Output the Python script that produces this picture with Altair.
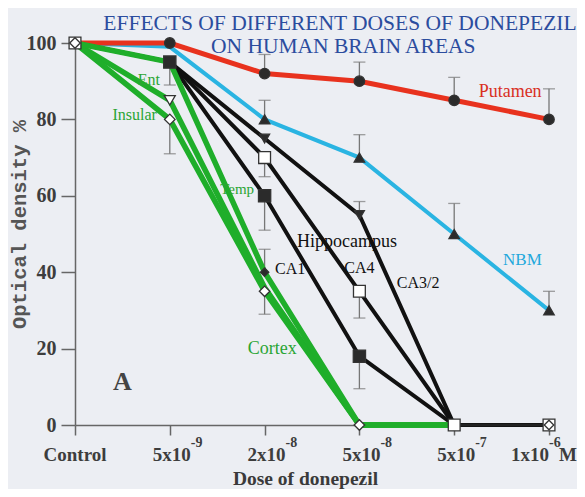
import altair as alt
import pandas as pd

# ---- data ----
dose_labels = ["Control", "5x10", "2x10", "5x10", "5x10", "1x10"]
dose_exponents = ["", "-9", "-8", "-8", "-7", "-6"]

putamen = [100, 100, 92, 90, 85, 80]
nbm = [100, 99, 80, 70, 50, 30]
ca32 = [100, 95, 75, 55, 0, 0]
ca4 = [100, 95, 70, 35, 0, 0]
ca1 = [100, 95, 60, 18, 0, 0]
ent = [100, 85, 36, 0, 0]
insular = [100, 80, 35, 0, 0]
temp = [100, 95, 40, 0, 0]

# error bar ends (dose index -> end value)
err_putamen = {2: 97, 3: 95, 4: 91, 5: 88}
err_nbm = {2: 85, 3: 76, 4: 58, 5: 35}
err_ca32 = {3: 58.5}
err_ca4 = {2: 65, 3: 28}
err_ca1 = {1: 89, 2: 51, 3: 9.5}
err_temp = {2: 46}
err_insular = {1: 71, 2: 29}

series = {
    "Putamen": putamen, "NBM": nbm, "CA3/2": ca32, "CA4": ca4, "CA1": ca1,
    "Ent": ent, "Insular": insular, "Temp": temp,
}
errors = {
    "Putamen": err_putamen, "NBM": err_nbm, "CA3/2": err_ca32, "CA4": err_ca4,
    "CA1": err_ca1, "Temp": err_temp, "Insular": err_insular,
}

# marker styles: series -> (shape, filled, size, dose indices)
marker_style = {
    "Putamen": ("circle", True, 110, [1, 2, 3, 4, 5]),
    "NBM": ("triangle-up", True, 110, [2, 3, 4, 5]),
    "CA3/2": ("triangle-down", True, 100, [2, 3]),
    "CA4": ("square", False, 140, [2, 3]),
    "CA1": ("square", True, 150, [1, 2, 3]),
    "Temp": ("diamond", True, 70, [2]),
    "Ent": ("triangle-down", False, 120, [1]),
    "Insular": ("diamond", False, 110, [1, 2, 3, 4]),
}

annotations = [
    ("Putamen", 4.59, 87.2, "#d9301f", 18),
    ("NBM", 4.72, 43.2, "#22a8dc", 17),
    ("Hippocampus", 2.87, 47.9, "#111111", 18),
    ("CA1", 2.27, 40.8, "#111111", 16),
    ("CA4", 3.0, 41.0, "#111111", 16),
    ("CA3/2", 3.62, 37.2, "#111111", 16),
    ("Ent", 0.78, 90.3, "#2aa534", 16),
    ("Insular", 0.63, 81.2, "#2aa534", 16),
    ("Temp", 1.71, 61.8, "#2aa534", 15),
    ("Cortex", 2.08, 19.9, "#2aa534", 18),
]

title_lines = [
    ("EFFECTS OF DIFFERENT DOSES OF DONEPEZIL", 2.795, 103.4),
    ("ON HUMAN BRAIN AREAS", 2.83, 97.4),
]

# ---- build tables ----
rows = []
for name, vals in series.items():
    for i, v in enumerate(vals):
        rows.append({"series": name, "x": i, "y": v})
lines = pd.DataFrame(rows)

tail = pd.DataFrame({"series": ["tail", "tail"], "x": [4, 5], "y": ca1[4:6]})

erows = []
for name, d in errors.items():
    for i, end in d.items():
        erows.append({"series": name, "x": i, "y": series[name][i], "y2": end})
errdf = pd.DataFrame(erows)

mrows = []
for name, (shape, filled, size, idxs) in marker_style.items():
    for i in idxs:
        mrows.append({"x": i, "y": series[name][i], "shape": shape,
                      "fill": "#2b2b2b" if filled else "white", "size": size})
# control and 1e-6 open square overlays
for i in [0, 4, 5]:
    mrows.append({"x": i, "y": ca1[i], "shape": "square", "fill": "white", "size": 140})
mrows.append({"x": 0, "y": 100, "shape": "diamond", "fill": "white", "size": 110})
mrows.append({"x": 5, "y": 0, "shape": "diamond", "fill": "white", "size": 90})
markers = pd.DataFrame(mrows)

ann = pd.DataFrame(annotations, columns=["text", "x", "y", "color", "size"])
ttl = pd.DataFrame(title_lines, columns=["text", "x", "y"])
ticks = pd.DataFrame({"x": list(range(6)), "base": dose_labels, "sup": dose_exponents})

FONT = "Liberation Serif"

xscale = alt.Scale(domain=[0, 5], nice=False, zero=False)
yscale = alt.Scale(domain=[0, 100], nice=False)

X = alt.X("x:Q", scale=xscale, axis=alt.Axis(
    values=[0, 1, 2, 3, 4, 5], labels=False, grid=False, tickSize=10, tickWidth=1.5,
    tickColor="#666666", domainColor="#666666", domainWidth=1.5,
    title="Dose of donepezil", titleFont=FONT, titleFontSize=19.5, titleFontWeight="bold",
    titleColor="#3a3a3a", titleX=230, titleY=59, titleAlign="center",
    titleBaseline="alphabetic"))
Y = alt.Y("y:Q", scale=yscale, axis=alt.Axis(
    values=list(range(0, 101, 10)), grid=False, tickSize=14, tickWidth=1.5,
    tickColor="#666666", domainColor="#666666", domainWidth=1.5,
    labelExpr="datum.value % 20 == 0 ? datum.label : ''",
    labelFont=FONT, labelFontSize=20, labelFontWeight="bold", labelColor="#3d3d3d",
    labelPadding=5,
    title="Optical density %", titleFont="Liberation Mono", titleFontSize=20.5,
    titleFontWeight="bold", titleColor="#555555", titleX=-50, titleY=181,
    titleAngle=-90, titleAlign="center", titleBaseline="alphabetic"))

base = alt.Chart(lines)

err_rule = alt.Chart(errdf).mark_rule(color="#777777", strokeWidth=1.3).encode(
    x=X, y="y:Q", y2="y2:Q")
err_cap = alt.Chart(errdf).mark_tick(color="#777777", thickness=1.3, size=12,
                                     orient="horizontal").encode(x=X, y=alt.Y("y2:Q", scale=yscale))

def line_layer(names, color, width):
    return base.transform_filter(
        alt.FieldOneOfPredicate(field="series", oneOf=names)
    ).mark_line(color=color, strokeWidth=width).encode(
        x=X, y=Y, detail="series:N", order="x:Q")

cyan = line_layer(["NBM"], "#2ab4e2", 4)
red = line_layer(["Putamen"], "#e8321e", 5)
black = line_layer(["CA3/2", "CA4", "CA1"], "#111111", 4)
green = line_layer(["Ent", "Insular", "Temp"], "#1fae2a", 5.5)
tail_line = alt.Chart(tail).mark_line(color="#222222", strokeWidth=2.5).encode(
    x=X, y="y:Q")

pts = alt.Chart(markers).mark_point(filled=True, stroke="#333333", strokeWidth=1.3,
                                    opacity=1).encode(
    x=X, y="y:Q",
    shape=alt.Shape("shape:N", scale=None),
    fill=alt.Fill("fill:N", scale=None),
    size=alt.Size("size:Q", scale=None))

labels = alt.Chart(ann).mark_text(font=FONT, baseline="middle", align="center").encode(
    x=X, y="y:Q", text="text:N",
    color=alt.Color("color:N", scale=None),
    size=alt.Size("size:Q", scale=None))

title = alt.Chart(ttl).mark_text(font=FONT, fontSize=21.5, color="#2b4c9e",
                                 baseline="alphabetic", align="center").encode(
    x=X, y="y:Q", text="text:N")

letter_a = alt.Chart(pd.DataFrame({"text": ["A"], "x": [0.5], "y": [11.3]})).mark_text(
    font=FONT, fontSize=26, fontWeight="bold", color="#444444", baseline="middle").encode(
    x=X, y="y:Q", text="text:N")

tick_ctrl = alt.Chart(ticks[ticks.x == 0]).mark_text(
    font=FONT, fontSize=19, fontWeight="bold", color="#3d3d3d", baseline="alphabetic",
    align="center", dy=36).encode(x=X, y=alt.datum(0), text="base:N")
tick_base = alt.Chart(ticks[(ticks.x > 0) & (ticks.x < 5)]).mark_text(
    font=FONT, fontSize=19, fontWeight="bold", color="#3d3d3d", baseline="alphabetic",
    align="right", dx=21, dy=36).encode(x=X, y=alt.datum(0), text="base:N")
tick_sup = alt.Chart(ticks[(ticks.x > 0) & (ticks.x < 5)]).mark_text(
    font=FONT, fontSize=14, fontWeight="bold", color="#3d3d3d", baseline="alphabetic",
    align="left", dx=21, dy=22).encode(x=X, y=alt.datum(0), text="sup:N")
tick_base_last = alt.Chart(ticks[ticks.x == 5]).mark_text(
    font=FONT, fontSize=19, fontWeight="bold", color="#3d3d3d", baseline="alphabetic",
    align="right", dx=0, dy=36).encode(x=X, y=alt.datum(0), text="base:N")
tick_sup_last = alt.Chart(ticks[ticks.x == 5]).mark_text(
    font=FONT, fontSize=14, fontWeight="bold", color="#3d3d3d", baseline="alphabetic",
    align="left", dx=0, dy=22).encode(x=X, y=alt.datum(0), text="sup:N")
tick_unit = alt.Chart(ticks[ticks.x == 5]).mark_text(
    font=FONT, fontSize=19, fontWeight="bold", color="#3d3d3d", baseline="alphabetic",
    align="left", dx=10, dy=36).encode(x=X, y=alt.datum(0), text=alt.value("M"))

chart = alt.layer(
    err_rule, err_cap, cyan, red, black, green, tail_line, pts,
    labels, title, letter_a,
    tick_ctrl, tick_base, tick_sup, tick_base_last, tick_sup_last, tick_unit,
).properties(
    width=474, height=382,
    autosize=alt.AutoSizeParams(type="none"),
    padding={"left": 67, "top": 35, "right": 28, "bottom": 64},
    background="#eceef3",
).configure_view(stroke=None)

chart.save("out.html", embed_options={"renderer": "svg", "actions": False})
